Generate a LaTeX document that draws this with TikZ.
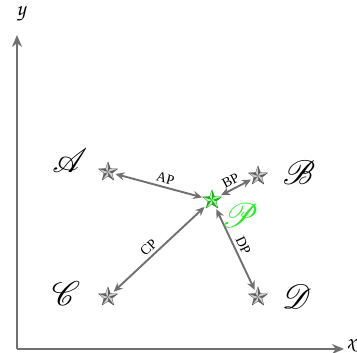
\documentclass[tikz,border=0pt]{standalone}
\usepackage{mathrsfs}
\usepackage{fontspec}
\setmainfont{Liberation Serif}
\usetikzlibrary{arrows.meta}
\definecolor{axisgray}{HTML}{707070}
\definecolor{pgreen}{HTML}{22EE22}
\newcommand{\bigscr}[1]{\scalebox{3.4}{$\mathscr{#1}$}}
\newcommand{\axscr}[1]{\scalebox{2.2}{\usefont{T1}{pzc}{mb}{it}#1}}
\tikzset{
  axis/.style={draw=axisgray, line width=2.2pt, -{Stealth[length=12pt,width=10pt]}},
  link/.style={draw=axisgray, line width=1.9pt, {Stealth[length=9pt,width=8pt]}-{Stealth[length=9pt,width=8pt]}},
  anchorpt/.style={circle, minimum size=15pt, inner sep=0pt},
  panchor/.style={circle, minimum size=20pt, inner sep=0pt},
  lbl/.style={font=\fontsize{14}{15}\selectfont, inner sep=3pt},
  scr/.style={inner sep=0pt},
  pics/star3d/.style={code={
    \foreach \i in {0,...,4}{
      \pgfmathsetmacro\a{-90+72*\i}
      \fill[#1!35!white] (0,0) -- (\a:10) -- (\a-36:4.2) -- cycle;
      \fill[#1!75!black] (0,0) -- (\a:10) -- (\a+36:4.2) -- cycle;
    }
    \draw[#1!60!black, line width=0.3pt] (-90:10) -- (-54:4.2) -- (-18:10) -- (18:4.2) -- (54:10) -- (90:4.2) -- (126:10) -- (162:4.2) -- (198:10) -- (234:4.2) -- cycle;
  }}
}
\begin{document}
\begin{tikzpicture}[x=1pt,y=-1pt]
\useasboundingbox (0,0) rectangle (357,353);
% axes
\coordinate (O) at (17,349);
\coordinate (Ytip) at (17,35);
\coordinate (Xtip) at (344,349);
\draw[axis] (O) -- (Ytip);
\draw[axis] (O) -- (Xtip);
\node[scr] (ylab) at (21,14) {\axscr{y}};
\node[scr] (xlab) at (351,346) {\axscr{x}};
% anchors
\node[anchorpt] (A) at (108,172) {};
\node[anchorpt] (B) at (258,176) {};
\node[panchor] (P) at (212,200) {};
\node[anchorpt] (C) at (108,297) {};
\node[anchorpt] (D) at (258,297) {};
% links
\draw[link] (A) -- (P) node[lbl, pos=0.55, above, sloped] {AP};
\draw[link] (P) -- (B) node[lbl, pos=0.45, above, sloped] {BP};
\draw[link] (C) -- (P) node[lbl, pos=0.45, above, sloped] {CP};
\draw[link] (P) -- (D) node[lbl, pos=0.5, above, sloped] {DP};
% stars
\pic at (A) {star3d=gray};
\pic at (B) {star3d=gray};
\pic at (C) {star3d=gray};
\pic at (D) {star3d=gray};
\pic at (P) {star3d=pgreen};
% labels
\node[scr] (Alab) at (70,161) {\bigscr{A}};
\node[scr] (Blab) at (299,173) {\bigscr{B}};
\node[scr, text=pgreen] (Plab) at (240,216) {\bigscr{P}};
\node[scr] (Clab) at (66,294) {\bigscr{C}};
\node[scr] (Dlab) at (297,297) {\bigscr{D}};
\end{tikzpicture}
\end{document}
